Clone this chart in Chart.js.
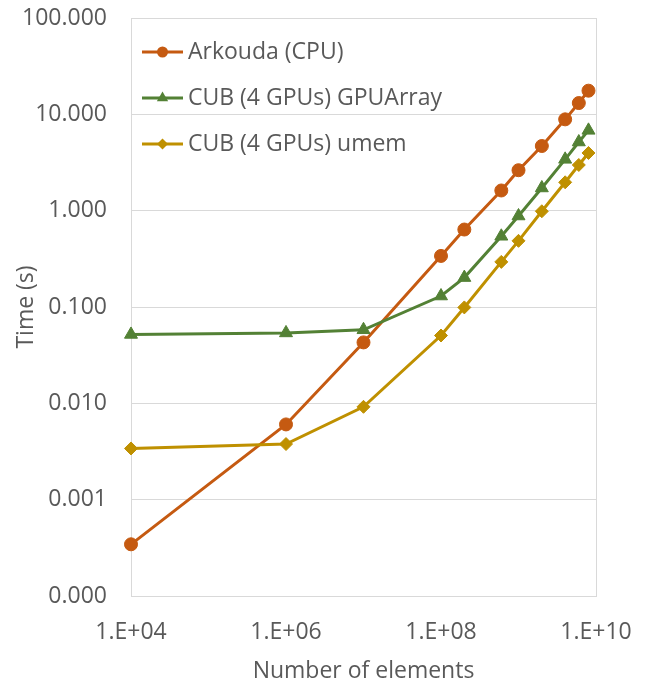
<!DOCTYPE html>
<html>
<head>
<meta charset="utf-8">
<script src="https://cdn.jsdelivr.net/npm/chart.js@4/dist/chart.umd.min.js"></script>
<style>
  html, body { margin: 0; padding: 0; background: #ffffff; }
  #wrap { width: 646px; height: 683px; position: relative; }
</style>
</head>
<body>
<div id="wrap"><canvas id="c" width="646" height="683"></canvas></div>
<script>
// ---- data ----
const elements = [1e4, 1e6, 1e7, 1e8, 2e8, 6e8, 1e9, 2e9, 4e9, 6e9, 8e9];
const arkoudaCPU = [0.000344, 0.00604, 0.0429, 0.339, 0.637, 1.62, 2.63, 4.69, 8.87, 13.1, 17.6];
const cubGPUArray = [0.0519, 0.0538, 0.058, 0.13, 0.202, 0.542, 0.88, 1.72, 3.41, 5.16, 6.82];
const cubUmem = [0.0034, 0.00378, 0.0092, 0.0506, 0.099, 0.294, 0.486, 0.986, 1.97, 2.98, 3.97];
const seriesNames = ["Arkouda (CPU)", "CUB (4 GPUs) GPUArray", "CUB (4 GPUs) umem"];
const xTickValues = [1e4, 1e6, 1e8, 1e10];
const xTickLabels = ["1.E+04", "1.E+06", "1.E+08", "1.E+10"];
const yTickValues = [1e-4, 1e-3, 1e-2, 1e-1, 1, 10, 100];
const yTickLabels = ["0.000", "0.001", "0.010", "0.100", "1.000", "10.000", "100.000"];
const xTitle = "Number of elements";
const yTitle = "Time (s)";

// ---- styling ----
const FONT = "'Open Sans', 'Liberation Sans', sans-serif";
const FS = 23;
const TEXT = "#595959";
const GRID = "#D9D9D9";
const colors = ["#C55A11", "#538135", "#BF9000"];
const styles = [
  { pointStyle: "circle", radius: 6.5 },
  { pointStyle: "triangle", radius: 7.5 },
  { pointStyle: "rectRot", radius: 6.5 }
];

function pts(ys) { return elements.map((x, i) => ({ x: x, y: ys[i] })); }
const seriesValues = [arkoudaCPU, cubGPUArray, cubUmem];

const datasets = seriesValues.map((ys, i) => ({
  label: seriesNames[i],
  data: pts(ys),
  borderColor: colors[i],
  backgroundColor: colors[i],
  pointBackgroundColor: colors[i],
  pointBorderColor: colors[i],
  borderWidth: 3,
  pointStyle: styles[i].pointStyle,
  pointRadius: styles[i].radius,
  pointBorderWidth: 1,
  showLine: true,
  tension: 0,
  fill: false,
  clip: false,
  order: 2 - i
}));

function drawMarker(ctx, style, r, x, y, color) {
  ctx.save();
  ctx.fillStyle = color;
  ctx.beginPath();
  if (style === "circle") {
    ctx.arc(x, y, r, 0, Math.PI * 2);
  } else if (style === "triangle") {
    ctx.moveTo(x, y - r);
    ctx.lineTo(x + r * 0.87, y + r * 0.5);
    ctx.lineTo(x - r * 0.87, y + r * 0.5);
    ctx.closePath();
  } else {
    ctx.moveTo(x, y - r);
    ctx.lineTo(x + r, y);
    ctx.lineTo(x, y + r);
    ctx.lineTo(x - r, y);
    ctx.closePath();
  }
  ctx.fill();
  ctx.restore();
}

const insideLegend = {
  id: "insideLegend",
  afterDraw(chart) {
    const ctx = chart.ctx;
    const area = chart.chartArea;
    ctx.save();
    chart.data.datasets.forEach((ds, i) => {
      const y = area.top + 34 + i * 46;
      const x0 = area.left + 11;
      ctx.strokeStyle = ds.borderColor;
      ctx.lineWidth = 3;
      ctx.beginPath();
      ctx.moveTo(x0, y);
      ctx.lineTo(x0 + 41, y);
      ctx.stroke();
      const st = styles[i];
      drawMarker(ctx, st.pointStyle, st.pointStyle === "triangle" ? 6.5 : 5.5, x0 + 20.5, y, ds.borderColor);
      ctx.fillStyle = TEXT;
      ctx.font = FS + "px " + FONT;
      ctx.textBaseline = "middle";
      ctx.textAlign = "left";
      ctx.fillText(ds.label, x0 + 46, y);
    });
    ctx.restore();
  }
};

new Chart(document.getElementById("c"), {
  type: "scatter",
  data: { datasets: datasets },
  plugins: [insideLegend],
  options: {
    responsive: false,
    animation: false,
    devicePixelRatio: 1,
    layout: { padding: { top: 18, right: 50, bottom: 0, left: 0 } },
    plugins: { legend: { display: false }, tooltip: { enabled: false } },
    scales: {
      x: {
        type: "logarithmic",
        min: 1e4,
        max: 1e10,
        afterBuildTicks(scale) { scale.ticks = xTickValues.map(v => ({ value: v })); },
        afterFit(scale) { scale.height = 87; scale.paddingLeft = 0; scale.paddingRight = 0; },
        ticks: {
          color: TEXT,
          font: { family: FONT, size: FS },
          padding: 23,
          maxRotation: 0,
          autoSkip: false,
          callback(value) {
            const k = xTickValues.findIndex(v => Math.abs(Math.log10(v) - Math.log10(value)) < 1e-6);
            return k >= 0 ? xTickLabels[k] : "";
          }
        },
        grid: {
          drawTicks: false,
          lineWidth: 1,
          color(ctx) {
            if (!ctx.tick) return "transparent";
            const v = ctx.tick.value;
            return (v === 1e4 || v === 1e10) ? GRID : "transparent";
          }
        },
        border: { display: true, color: GRID, width: 1 },
        title: {
          display: true,
          text: xTitle,
          color: TEXT,
          font: { family: FONT, size: FS },
          padding: { top: 0, bottom: -2 }
        }
      },
      y: {
        type: "logarithmic",
        min: 1e-4,
        max: 100,
        afterBuildTicks(scale) { scale.ticks = yTickValues.map(v => ({ value: v })); },
        afterFit(scale) { scale.width = 131; scale.paddingTop = 0; scale.paddingBottom = 0; },
        ticks: {
          color: TEXT,
          font: { family: FONT, size: FS },
          padding: 24,
          autoSkip: false,
          callback(value) {
            const k = yTickValues.findIndex(v => Math.abs(Math.log10(v) - Math.log10(value)) < 1e-6);
            return k >= 0 ? yTickLabels[k] : "";
          }
        },
        grid: { drawTicks: false, color: GRID, lineWidth: 1 },
        border: { display: true, color: GRID, width: 1 },
        title: {
          display: true,
          text: yTitle,
          color: TEXT,
          font: { family: FONT, size: FS },
          padding: { top: 13, bottom: 0 }
        }
      }
    }
  }
});
</script>
</body>
</html>
